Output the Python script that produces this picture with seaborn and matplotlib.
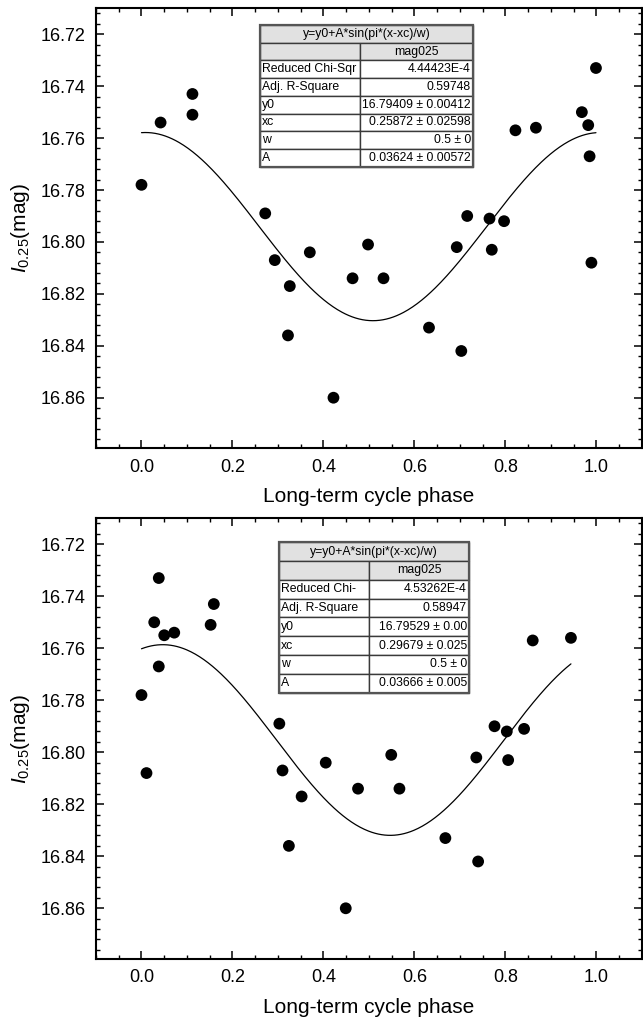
import numpy as np
import pandas as pd
import matplotlib
matplotlib.use("Agg")
import matplotlib.pyplot as plt
import seaborn as sns
from matplotlib.patches import Rectangle
from matplotlib.ticker import MultipleLocator, FormatStrFormatter

# ---------------- data ----------------
phase_top = [0.000, 0.042, 0.112, 0.112, 0.272, 0.293, 0.326, 0.322, 0.370, 0.422,
             0.464, 0.498, 0.532, 0.632, 0.693, 0.703, 0.716, 0.765, 0.770, 0.797,
             0.822, 0.867, 0.968, 0.982, 0.985, 0.989, 0.999]
mag_top = [16.778, 16.754, 16.743, 16.751, 16.789, 16.807, 16.817, 16.836, 16.804, 16.860,
           16.814, 16.801, 16.814, 16.833, 16.802, 16.842, 16.790, 16.791, 16.803, 16.792,
           16.757, 16.756, 16.750, 16.755, 16.767, 16.808, 16.733]

phase_bot = [0.000, 0.038, 0.028, 0.050, 0.072, 0.038, 0.159, 0.152, 0.303, 0.776,
             0.803, 0.841, 0.860, 0.944, 0.011, 0.310, 0.352, 0.324, 0.405, 0.449,
             0.476, 0.549, 0.567, 0.668, 0.736, 0.806, 0.740]
mag_bot = [16.778, 16.733, 16.750, 16.755, 16.754, 16.767, 16.743, 16.751, 16.789, 16.790,
           16.792, 16.791, 16.757, 16.756, 16.808, 16.807, 16.817, 16.836, 16.804, 16.860,
           16.814, 16.801, 16.814, 16.833, 16.802, 16.803, 16.842]

# fit parameters (y = y0 + A*sin(pi*(x-xc)/w))
fit_top = dict(y0=16.79409, xc=0.25872, w=0.5, A=0.03624)
fit_bot = dict(y0=16.79529, xc=0.29679, w=0.5, A=0.03666)

table_title = "y=y0+A*sin(pi*(x-xc)/w)"
table_col = "mag025"
top_labels = ["Reduced Chi-Sqr", "Adj. R-Square", "y0", "xc", "w", "A"]
top_values = ["4.44423E-4", "0.59748", "16.79409 \u00b1 0.00412", "0.25872 \u00b1 0.02598",
              "0.5 \u00b1 0", "0.03624 \u00b1 0.00572"]
bot_labels = ["Reduced Chi-", "Adj. R-Square", "y0", "xc", "w", "A"]
bot_values = ["4.53262E-4", "0.58947", "16.79529 \u00b1 0.00", "0.29679 \u00b1 0.025",
              "0.5 \u00b1 0", "0.03666 \u00b1 0.005"]

x_label = "Long-term cycle phase"
y_label = r"$\mathit{I}_{\mathrm{0.25}}$(mag)"

# ---------------- style ----------------
sns.set_theme(style="white")
plt.rcParams["font.family"] = ["Liberation Sans", "DejaVu Sans"]
plt.rcParams["mathtext.fontset"] = "custom"
plt.rcParams["mathtext.rm"] = "Liberation Sans"
plt.rcParams["mathtext.it"] = "Liberation Sans:italic"
plt.rcParams["axes.edgecolor"] = "black"
plt.rcParams["text.color"] = "black"
plt.rcParams["axes.labelcolor"] = "black"
plt.rcParams["xtick.color"] = "black"
plt.rcParams["ytick.color"] = "black"

fig = plt.figure(figsize=(6.43, 10.25), dpi=100)
ax_top = fig.add_axes([0.1493, 0.5626, 0.849, 0.4293])
ax_bot = fig.add_axes([0.1493, 0.0644, 0.849, 0.4300])


def draw_table(ax, labels, values, x0, x1, xdiv, ytop, ybot):
    nrows = 2 + len(labels)
    rh = (ytop - ybot) / nrows
    edge = "#3a3a3a"
    gray = "#e1e1e1"
    fs = 8.8
    pad = 0.004
    ax.add_patch(Rectangle((x0, ytop - rh), x1 - x0, rh, transform=ax.transAxes,
                           facecolor=gray, edgecolor=edge, lw=1.0, zorder=5))
    ax.text((x0 + x1) / 2, ytop - rh / 2, table_title, transform=ax.transAxes,
            ha="center", va="center", fontsize=fs, zorder=6)
    y = ytop - 2 * rh
    ax.add_patch(Rectangle((x0, y), xdiv - x0, rh, transform=ax.transAxes,
                           facecolor=gray, edgecolor=edge, lw=1.0, zorder=5))
    ax.add_patch(Rectangle((xdiv, y), x1 - xdiv, rh, transform=ax.transAxes,
                           facecolor=gray, edgecolor=edge, lw=1.0, zorder=5))
    ax.text((xdiv + x1) / 2, y + rh / 2, table_col, transform=ax.transAxes,
            ha="center", va="center", fontsize=fs, zorder=6)
    for i, (lab, val) in enumerate(zip(labels, values)):
        y = ytop - (3 + i) * rh
        ax.add_patch(Rectangle((x0, y), xdiv - x0, rh, transform=ax.transAxes,
                               facecolor="white", edgecolor=edge, lw=1.0, zorder=5))
        ax.add_patch(Rectangle((xdiv, y), x1 - xdiv, rh, transform=ax.transAxes,
                               facecolor="white", edgecolor=edge, lw=1.0, zorder=5))
        ax.text(x0 + pad, y + rh / 2, lab, transform=ax.transAxes,
                ha="left", va="center", fontsize=fs, zorder=6)
        ax.text(x1 - pad, y + rh / 2, val, transform=ax.transAxes,
                ha="right", va="center", fontsize=fs, zorder=6)
    ax.add_patch(Rectangle((x0, ybot), x1 - x0, ytop - ybot, transform=ax.transAxes,
                           facecolor="none", edgecolor="#555555", lw=1.6, zorder=7))


def panel(ax, phase, mag, fit, labels, values, tbox):
    df = pd.DataFrame({"phase": phase, "mag": mag})
    xs = np.linspace(min(phase), max(phase), 400)
    ys = fit["y0"] + fit["A"] * np.sin(np.pi * (xs - fit["xc"]) / fit["w"])
    sns.lineplot(x=xs, y=ys, ax=ax, color="black", lw=0.9, zorder=3)
    sns.scatterplot(data=df, x="phase", y="mag", ax=ax, color="black", s=72,
                    edgecolor="none", zorder=4)
    ax.set_xlim(-0.1, 1.1)
    ax.set_ylim(16.8795, 16.7100)
    ax.xaxis.set_major_locator(MultipleLocator(0.2))
    ax.xaxis.set_minor_locator(MultipleLocator(0.05))
    ax.yaxis.set_major_locator(MultipleLocator(0.02))
    ax.yaxis.set_minor_locator(MultipleLocator(0.004))
    ax.xaxis.set_major_formatter(FormatStrFormatter("%.1f"))
    ax.yaxis.set_major_formatter(FormatStrFormatter("%.2f"))
    ax.tick_params(which="both", direction="in", top=True, right=True,
                   bottom=True, left=True, color="black", labelcolor="black")
    ax.tick_params(which="major", length=6, width=1.1, labelsize=13, pad=7.5)
    ax.tick_params(which="minor", length=3, width=1.0)
    for sp in ax.spines.values():
        sp.set_linewidth(1.5)
        sp.set_color("black")
    ax.set_xlabel(x_label, fontsize=15, labelpad=8, color="black")
    ax.set_ylabel(y_label, fontsize=15, labelpad=6, color="black")
    draw_table(ax, labels, values, *tbox)


panel(ax_top, phase_top, mag_top, fit_top, top_labels, top_values,
      (0.3004, 0.6905, 0.4835, 0.962, 0.640))
panel(ax_bot, phase_bot, mag_bot, fit_bot, bot_labels, bot_values,
      (0.3352, 0.6832, 0.5000, 0.9455, 0.6043))

fig.savefig("out.png", dpi=100)
